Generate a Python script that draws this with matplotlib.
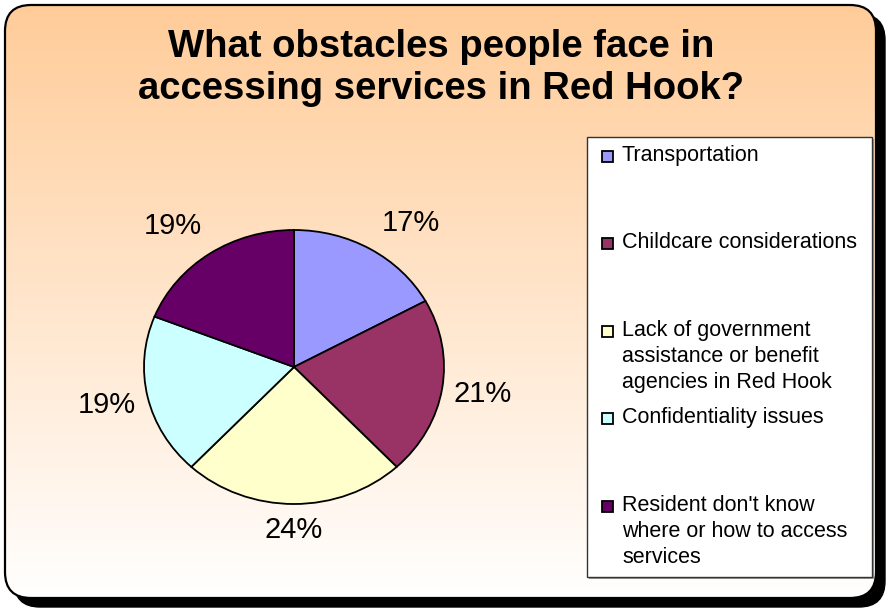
import numpy as np
import matplotlib.pyplot as plt
from matplotlib.patches import FancyBboxPatch, Rectangle

# ---- data -------------------------------------------------------------
categories = [
    "Transportation",
    "Childcare considerations",
    "Lack of government\nassistance or benefit\nagencies in Red Hook",
    "Confidentiality issues",
    "Resident don't know\nwhere or how to access\nservices",
]
shares = [17, 21, 24, 19, 19]
slice_colors = ["#9999FF", "#993366", "#FFFFCC", "#CCFFFF", "#660066"]
title = "What obstacles people face in\naccessing services in Red Hook?"

FONT = ["Liberation Sans", "DejaVu Sans"]
W, H = 886, 611

fig = plt.figure(figsize=(W / 100, H / 100), dpi=100)
fig.patch.set_facecolor("white")

# background canvas in pixel units (y grows downward)
bg = fig.add_axes([0, 0, 1, 1])
bg.set_xlim(0, W)
bg.set_ylim(H, 0)
bg.axis("off")

x0, y0, x1, y1 = 5, 5, 876, 598
rad = 26


def rounded(x, y, w, h, **kw):
    return FancyBboxPatch((x + rad, y + rad), w - 2 * rad, h - 2 * rad,
                          boxstyle=f"round,pad={rad},rounding_size={rad}", **kw)


# drop shadow
bg.add_patch(rounded(x0 + 9, y0 + 9, x1 - x0, y1 - y0, fc="black", ec="black", lw=1))

# gradient panel: peach at the top fading to white at the bottom
panel = rounded(x0, y0, x1 - x0, y1 - y0, fc="none", ec="black", lw=1.6, zorder=3)
bg.add_patch(panel)
top = np.array([255, 204, 153]) / 255.0
bottom = np.array([255, 255, 255]) / 255.0
t = np.linspace(0, 1, 400)[:, None]
grad = (top * (1 - t) + bottom * t)[:, None, :]
im = bg.imshow(grad, extent=(x0, x1, y1, y0), aspect="auto", zorder=1,
               interpolation="bilinear")
im.set_clip_path(panel)
bg.set_xlim(0, W)
bg.set_ylim(H, 0)

# title
bg.text(441, 68, title, ha="center", va="center", fontsize=27.5,
        fontweight="bold", family=FONT, linespacing=1.2, zorder=5)

# ---- pie --------------------------------------------------------------
cx, cy, rx, ry = 294, 367, 150, 137
lim = 1.15
ax = fig.add_axes([(cx - lim * rx) / W, (H - cy - lim * ry) / H,
                   2 * lim * rx / W, 2 * lim * ry / H])
wedges, _, pct_texts = ax.pie(
    shares, colors=slice_colors, startangle=90, counterclock=False,
    autopct=lambda p: f"{p:.0f}%", pctdistance=1.29,
    wedgeprops=dict(edgecolor="black", linewidth=1.3),
    textprops=dict(fontsize=21, family=FONT, color="black"),
)
ax.set_aspect("auto")
ax.set_xlim(-lim, lim)
ax.set_ylim(-lim, lim)

# per-label placement tweaks (angle shift, radial distance)
label_shift_deg = [-6, 0, 0, 0, 4]
label_radius = [1.31, 1.27, 1.19, 1.28, 1.31]
for txt, w, d, r in zip(pct_texts, wedges, label_shift_deg, label_radius):
    ang = np.deg2rad((w.theta1 + w.theta2) / 2 + d)
    txt.set_position((r * np.cos(ang), r * np.sin(ang)))

# ---- legend -----------------------------------------------------------
lx0, ly0, lx1, ly1 = 587, 137, 872, 577
bg.add_patch(Rectangle((lx0 + 2, ly0 + 2), lx1 - lx0, ly1 - ly0,
                       fc="#9a9a9a", ec="none", zorder=4))
bg.add_patch(Rectangle((lx0, ly0), lx1 - lx0, ly1 - ly0,
                       fc="white", ec="#333333", lw=1.0, zorder=5))
step = 87.4
for i, (lab, col) in enumerate(zip(categories, slice_colors)):
    cap_top = 146 + step * i
    bg.add_patch(Rectangle((602, cap_top + 5), 11, 11, fc=col, ec="black",
                           lw=1.3, zorder=6))
    bg.text(622, cap_top - 1, lab, ha="left", va="top", fontsize=15.5,
            family=FONT, linespacing=1.33, zorder=6)

fig.savefig("out.png", dpi=100)
